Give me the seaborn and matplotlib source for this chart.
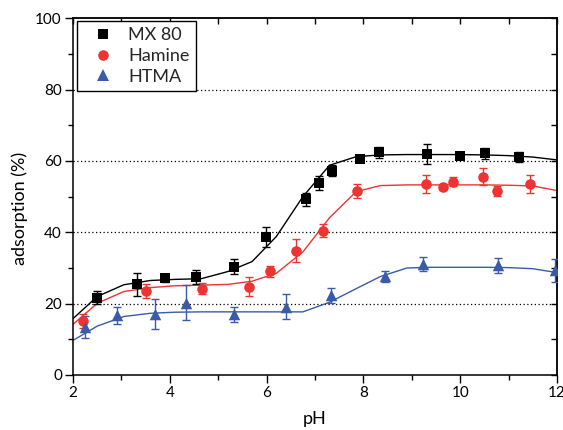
import numpy as np
import pandas as pd
import matplotlib
matplotlib.use("Agg")
import matplotlib.pyplot as plt
import seaborn as sns
from matplotlib.lines import Line2D
from matplotlib.ticker import MultipleLocator

# ---- measured data points ----
mx_ph = [2.50, 3.32, 3.90, 4.54, 5.33, 5.99, 6.82, 7.09, 7.35, 7.92, 8.33, 9.31, 10.00, 10.51, 11.21]
mx_ads = [21.7, 25.4, 27.2, 27.5, 30.4, 38.8, 49.3, 53.9, 57.3, 60.6, 62.4, 61.9, 61.5, 62.1, 61.1]
mx_err = [1.9, 3.2, 1.2, 1.9, 2.0, 2.8, 1.8, 2.0, 1.6, 1.0, 1.5, 2.8, 1.0, 1.5, 1.5]

hm_ph = [2.21, 3.51, 4.67, 5.63, 6.08, 6.61, 7.17, 7.87, 9.29, 9.65, 9.86, 10.47, 10.77, 11.45]
hm_ads = [15.1, 23.5, 24.2, 24.8, 29.1, 34.8, 40.5, 51.6, 53.5, 52.8, 54.2, 55.6, 51.6, 53.5]
hm_err = [2.0, 2.0, 1.5, 2.7, 1.5, 3.2, 1.7, 2.0, 2.5, 0.8, 1.2, 2.3, 1.5, 2.6]

ht_ph = [2.25, 2.91, 3.70, 4.34, 5.33, 6.41, 7.34, 8.44, 9.24, 10.79, 11.96]
ht_ads = [13.5, 16.7, 17.1, 20.3, 17.0, 19.2, 22.4, 27.7, 31.2, 30.7, 29.3]
ht_err = [3.0, 2.4, 4.1, 4.8, 2.1, 3.4, 2.1, 1.5, 2.0, 2.0, 3.1]

# ---- fitted curves (vertices) ----
fit_ph = [2.0, 2.5, 3.05, 3.6, 4.1, 4.65, 5.2, 5.7, 6.2, 6.75, 7.3, 7.85, 8.35, 8.9, 9.4, 9.95, 10.5, 11.0, 11.5, 12.0]
mx_fit = [15.8, 22.0, 25.3, 26.5, 26.8, 27.0, 29.0, 31.8, 38.8, 50.0, 58.8, 61.2, 61.7, 61.8, 61.8, 61.8, 61.7, 61.5, 61.1, 60.3]
hm_fit = [14.2, 20.1, 23.4, 24.5, 25.0, 25.2, 25.4, 26.3, 28.5, 34.5, 44.1, 51.4, 53.1, 53.3, 53.3, 53.3, 53.3, 53.2, 53.0, 51.7]
ht_fit = [9.7, 13.7, 16.4, 17.3, 17.6, 17.7, 17.7, 17.7, 17.7, 17.7, 20.4, 24.2, 27.6, 30.0, 30.2, 30.2, 30.2, 30.1, 29.8, 28.7]

labels = ["MX 80", "Hamine", "HTMA"]
colors = ["#000000", "#EE3333", "#3A5BAA"]
markers = ["s", "o", "^"]
msizes = [7.3, 7.6, 8.3]

grid_levels = [20, 40, 60, 80]

sns.set_theme(style="ticks")
plt.rcParams['font.family'] = ['Lato', 'DejaVu Sans']

fig = plt.figure(figsize=(5.63, 4.30), dpi=100)
ax = fig.add_axes([73 / 563, 1 - 375 / 430, (557 - 73) / 563, (375 - 18.3) / 430])

for g in grid_levels:
    ax.axhline(g, color="black", lw=0.9, ls=(0, (1, 2)), zorder=0)

series = [
    (mx_ph, mx_ads, mx_err, mx_fit),
    (hm_ph, hm_ads, hm_err, hm_fit),
    (ht_ph, ht_ads, ht_err, ht_fit),
]

for (px, py, pe, pf), lab, c, m, ms in zip(series, labels, colors, markers, msizes):
    sns.lineplot(x=fit_ph, y=pf, color=c, lw=1.0, ax=ax, sort=False, zorder=2)
    ax.errorbar(px, py, yerr=pe, fmt="none", ecolor=c, elinewidth=1.0,
                capsize=3, capthick=1.0, zorder=3)
    sns.scatterplot(x=px, y=py, color=c, marker=m, s=ms ** 2, linewidth=0,
                    ax=ax, legend=False, zorder=4)

ax.set_xlim(2, 12)
ax.set_ylim(0, 100)
ax.xaxis.set_major_locator(MultipleLocator(2))
ax.xaxis.set_minor_locator(MultipleLocator(1))
ax.yaxis.set_major_locator(MultipleLocator(20))
ax.yaxis.set_minor_locator(MultipleLocator(10))

for s in ax.spines.values():
    s.set_visible(True)
    s.set_linewidth(1.1)
    s.set_color("black")

ax.tick_params(which="major", direction="out", length=5.5, width=1.0,
               color="black", labelsize=11, pad=2.5, labelcolor="black")
ax.tick_params(which="minor", direction="out", length=3.5, width=1.0, color="black")
ax.tick_params(top=False, right=False, which="both")

sec_x = ax.secondary_xaxis("top")
sec_x.xaxis.set_major_locator(MultipleLocator(1))
sec_x.tick_params(direction="in", length=4.5, width=1.0, labeltop=False, color="black")
sec_x.spines["top"].set_linewidth(1.1)
sec_y = ax.secondary_yaxis("right")
sec_y.yaxis.set_major_locator(MultipleLocator(10))
sec_y.tick_params(direction="in", length=4, width=1.0, labelright=False, color="black")
sec_y.spines["right"].set_linewidth(1.1)

ax.set_xlabel("pH", fontsize=13, color="black")
ax.set_ylabel("adsorption (%)", fontsize=13, color="black")
ax.xaxis.set_label_coords(0.5, -0.10)
ax.yaxis.set_label_coords(-0.092, 0.468)

handles = [Line2D([], [], ls="none", marker=m, color=c, markersize=ms, markeredgewidth=0)
           for c, m, ms in zip(colors, markers, msizes)]
leg = ax.legend(handles, labels, loc="upper left", bbox_to_anchor=(0.008, 0.992),
                borderaxespad=0, frameon=True, fancybox=False, framealpha=1,
                edgecolor="black", fontsize=13, handlelength=2.2, handletextpad=0.3,
                labelspacing=0.25, borderpad=0.35)
leg.get_frame().set_linewidth(1.0)
leg.set_zorder(10)

fig.savefig("out.png", dpi=100)
